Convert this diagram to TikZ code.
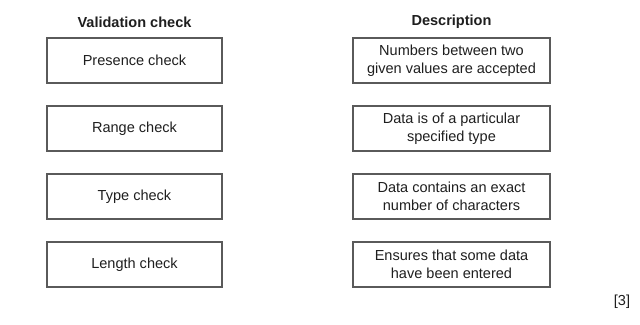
\documentclass[tikz,border=0pt]{standalone}
\usepackage{fontspec}
\setmainfont{Liberation Sans}
\usetikzlibrary{positioning}
\definecolor{boxgrey}{RGB}{90,90,90}
\definecolor{textgrey}{RGB}{30,30,30}

\tikzset{
  checkbox/.style={draw=boxgrey, line width=0.8pt, minimum width=131.25pt,
    minimum height=33.75pt, inner sep=0pt, text=textgrey, align=center,
    font=\fontsize{10.9}{13.5}\selectfont},
  descbox/.style={checkbox, minimum width=147.75pt},
  heading/.style={text=textgrey, font=\fontsize{10.9}{13.5}\selectfont\bfseries}
}

\begin{document}
\begin{tikzpicture}[x=0.75pt,y=-0.75pt]
        \useasboundingbox (0,0) rectangle (640,325);
        % column headings
        \node[heading] (vchead) at (134.5,22) {Validation check};
        \node[heading] (deschead) at (451.5,22) {Description};
        % left column
        \node[checkbox] (vc1) at (134.5,60.5) {Presence check};
        \node[checkbox] (vc2) at (134.5,128.5) {Range check};
        \node[checkbox] (vc3) at (134.5,196.5) {Type check};
        \node[checkbox] (vc4) at (134.5,264.5) {Length check};
        % right column
        \node[descbox] (desc1) at (451.5,60.5) {Numbers between two\\given values are accepted};
        \node[descbox] (desc2) at (451.5,128.5) {Data is of a particular\\specified type};
        \node[descbox] (desc3) at (451.5,196.5) {Data contains an exact\\number of characters};
        \node[descbox] (desc4) at (451.5,264.5) {Ensures that some data\\have been entered};
        \node[text=textgrey, font=\fontsize{10.9}{13.5}\selectfont] (marks) at (622,302) {[3]};
      \end{tikzpicture}
\end{document}
